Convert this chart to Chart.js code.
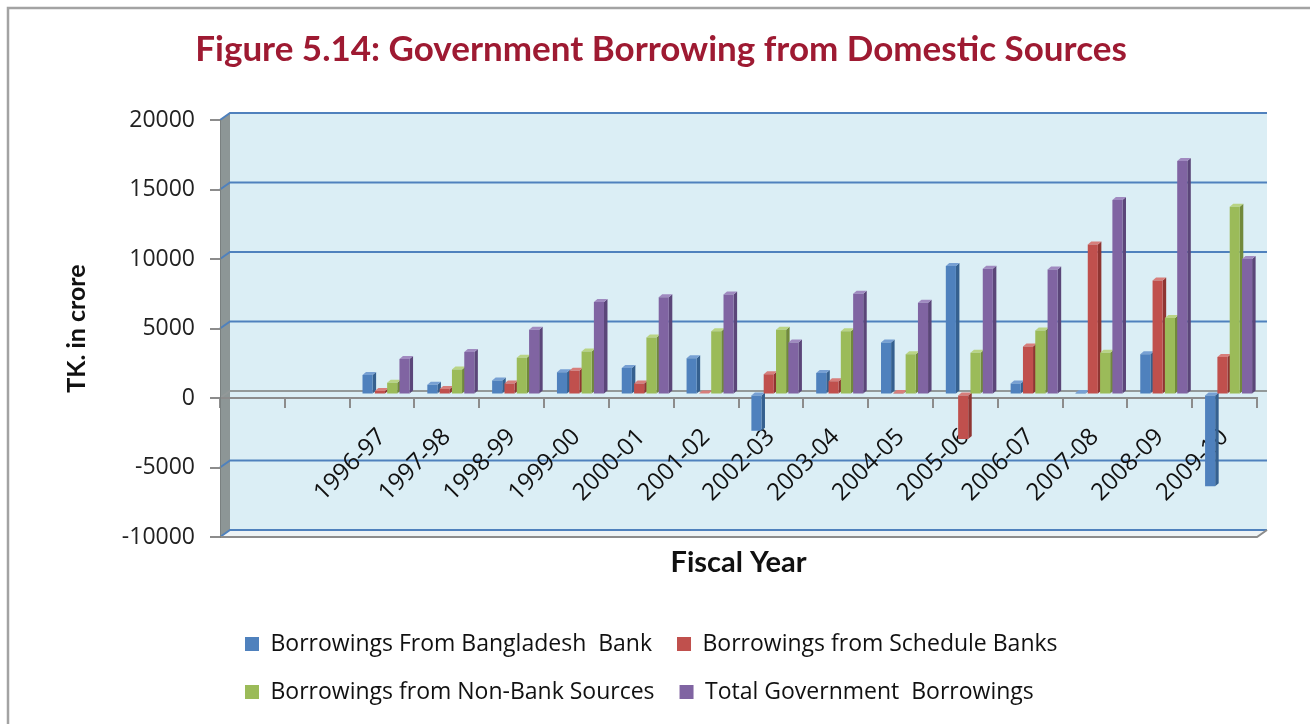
<!DOCTYPE html>
<html>
<head>
<meta charset="utf-8">
<title>Government Borrowing from Domestic Sources</title>
<script src="https://cdn.jsdelivr.net/npm/chart.js@4.4.1/dist/chart.umd.min.js"></script>
<style>
  html, body { margin: 0; padding: 0; background: #fff; }
  #wrap { position: relative; width: 1310px; height: 724px; }
</style>
</head>
<body>
<div id="wrap"><canvas id="chart" width="1310" height="724"></canvas></div>
<script>
// fiscal years on the category axis; the first two slots stay empty
const fiscalYears = ['', '', '1996-97', '1997-98', '1998-99', '1999-00', '2000-01', '2001-02',
  '2002-03', '2003-04', '2004-05', '2005-06', '2006-07', '2007-08', '2008-09', '2009-10'];

// borrowing in Tk. crore
const fromBangladeshBank = [null, null, 1400, 700, 1000, 1600, 1900, 2600, -2600, 1550, 3750, 9250, 800, 100, 2900, -6600];
const fromScheduleBanks  = [null, null, 250, 400, 800, 1700, 800, 80, 1450, 950, 100, -3200, 3450, 10800, 8200, 2700];
const fromNonBankSources = [null, null, 850, 1800, 2650, 3100, 4100, 4550, 4650, 4550, 2900, 3000, 4600, 3000, 5500, 13500];
const totalBorrowings    = [null, null, 2550, 3050, 4650, 6650, 7000, 7200, 3750, 7250, 6600, 9050, 9000, 14000, 16800, 9750];

const seriesNames = [
  'Borrowings From Bangladesh  Bank',
  'Borrowings from Schedule Banks',
  'Borrowings from Non-Bank Sources',
  'Total Government  Borrowings'
];

const yMin = -10000, yMax = 20000, yStep = 5000;

// front / right side / top face colours
const faceColors = [
  ['#4f81bd', '#35608f', '#77a0d3'],
  ['#c0504d', '#8f3532', '#d77e7b'],
  ['#9bbb59', '#71893b', '#b9d484'],
  ['#8064a2', '#5b4679', '#a08ac0']
];

const TITLE_FONT = 'Lato, "Open Sans", sans-serif';
const TEXT_FONT = '"Open Sans", Lato, sans-serif';
const WALL = { dx: 10, dy: -7 };       // depth of the plot box
const SHIFT = { dx: 4, dy: -3.5 };     // columns sit half way back
const SIDE = { dx: 3.5, dy: -3 };      // column depth

function poly(ctx, pts, fill) {
  ctx.beginPath();
  ctx.moveTo(pts[0][0], pts[0][1]);
  for (let i = 1; i < pts.length; i++) ctx.lineTo(pts[i][0], pts[i][1]);
  ctx.closePath();
  ctx.fillStyle = fill;
  ctx.fill();
}

// back wall, side wall, floor and gridlines
const walls = {
  id: 'walls',
  beforeDraw(chart) {
    const { ctx, chartArea: a, scales: { y } } = chart;
    const { dx, dy } = WALL;
    const L = a.left, R = a.right, T = a.top, B = a.bottom;
    ctx.save();
    ctx.fillStyle = '#fff';
    ctx.fillRect(0, 0, chart.width, chart.height);

    ctx.strokeStyle = '#a3a3a3';
    ctx.lineWidth = 2.5;
    ctx.beginPath();
    ctx.moveTo(8, chart.height);
    ctx.lineTo(8, 8);
    ctx.lineTo(chart.width, 8);
    ctx.stroke();

    ctx.fillStyle = '#dbeef5';
    ctx.fillRect(L + dx, T + dy, R - L, B - T);
    poly(ctx, [[L, B], [R, B], [R + dx, B + dy], [L + dx, B + dy]], '#eef3f5');
    poly(ctx, [[L, T], [L + dx, T + dy], [L + dx, B + dy], [L, B]], '#8d9696');

    ctx.lineWidth = 2;
    y.ticks.forEach(t => {
      const py = y.getPixelForValue(t.value);
      ctx.strokeStyle = t.value === 0 ? '#939999' : '#4f81bd';
      ctx.beginPath();
      ctx.moveTo(L, py);
      ctx.lineTo(L + dx, py + dy);
      ctx.lineTo(R + dx, py + dy);
      ctx.stroke();
    });

    ctx.strokeStyle = '#8c8c8c';
    ctx.beginPath();
    ctx.moveTo(L, B);
    ctx.lineTo(R, B);
    ctx.lineTo(R + dx, B + dy);
    ctx.stroke();
    ctx.restore();
  }
};

// side and top faces of the columns; Chart.js then paints the fronts
const columns3d = {
  id: 'columns3d',
  beforeDatasetsDraw(chart) {
    const ctx = chart.ctx;
    ctx.save();
    ctx.translate(SHIFT.dx, SHIFT.dy);
    chart.data.datasets.forEach((ds, i) => {
      const meta = chart.getDatasetMeta(i);
      meta.data.forEach((bar, j) => {
        if (ds.data[j] == null) return;
        const { x, y, base, width } = bar.getProps(['x', 'y', 'base', 'width'], true);
        const l = x - width / 2, r = x + width / 2;
        const top = Math.min(y, base), bot = Math.max(y, base);
        poly(ctx, [[r, top], [r + SIDE.dx, top + SIDE.dy], [r + SIDE.dx, bot + SIDE.dy], [r, bot]], faceColors[i][1]);
        poly(ctx, [[l, top], [r, top], [r + SIDE.dx, top + SIDE.dy], [l + SIDE.dx, top + SIDE.dy]], faceColors[i][2]);
      });
    });
  },
  afterDatasetsDraw(chart) {
    chart.ctx.restore();
  }
};

const seriesData = [fromBangladeshBank, fromScheduleBanks, fromNonBankSources, totalBorrowings];

new Chart(document.getElementById('chart'), {
  type: 'bar',
  data: {
    labels: fiscalYears,
    datasets: seriesData.map((d, i) => ({
      label: seriesNames[i],
      data: d,
      backgroundColor: faceColors[i][0],
      borderWidth: 0,
      barPercentage: 0.82,
      categoryPercentage: 0.76
    }))
  },
  options: {
    responsive: false,
    animation: false,
    devicePixelRatio: 1,
    layout: { padding: { left: 12, right: 0, top: 0, bottom: 10.5 } },
    scales: {
      x: {
        type: 'category',
        position: { y: 0 },
        offset: true,
        z: 1,
        grid: { drawOnChartArea: false, offset: true, tickLength: 9, color: '#8c8c8c', lineWidth: 2 },
        border: { color: '#8c8c8c', width: 2 },
        ticks: {
          autoSkip: false, maxRotation: 45, minRotation: 45, padding: 16,
          color: '#111', font: { family: TEXT_FONT, size: 24 }
        }
      },
      y: {
        min: yMin,
        max: yMax,
        afterFit(s) { s.width = 208; },
        grid: { drawOnChartArea: false, tickLength: 10, color: '#8c8c8c', lineWidth: 2 },
        border: { color: '#7a8080', width: 1 },
        ticks: {
          stepSize: yStep, padding: 15, color: '#222',
          font: { family: TEXT_FONT, size: 23 },
          callback: v => String(v)
        },
        title: {
          display: true, text: 'TK. in crore', color: '#111',
          font: { family: TITLE_FONT, size: 25, weight: 'bold', lineHeight: 1.2 },
          padding: { top: 50, bottom: 0 }
        }
      },
      y2: {
        type: 'linear',
        position: 'right',
        afterFit(s) { s.width = 53; },
        grid: { display: false },
        border: { display: false },
        ticks: { display: false }
      }
    },
    plugins: {
      title: {
        display: true,
        text: 'Figure 5.14: Government Borrowing from Domestic Sources',
        color: '#9e1a32',
        font: { family: TITLE_FONT, size: 35, weight: 'bold', lineHeight: 1.2 },
        padding: { top: 29, bottom: 49 }
      },
      subtitle: {
        display: true,
        text: 'Fiscal Year',
        position: 'bottom',
        fullSize: false,
        weight: 500,
        color: '#111',
        font: { family: TITLE_FONT, size: 29, weight: 'bold', lineHeight: 1.2 },
        padding: { top: 8.6, bottom: 27.1 }
      },
      legend: {
        position: 'bottom',
        align: 'start',
        fullSize: false,
        labels: {
          boxWidth: 14, boxHeight: 14, padding: 25,
          color: '#111', font: { family: TEXT_FONT, size: 23 }
        }
      },
      tooltip: { enabled: false }
    }
  },
  plugins: [walls, columns3d]
});
</script>
</body>
</html>
